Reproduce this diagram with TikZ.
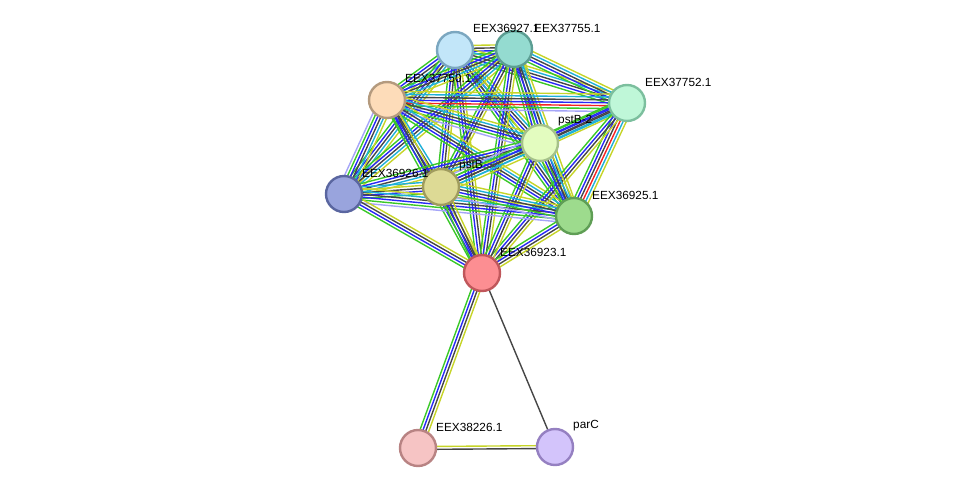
\documentclass[tikz,border=0pt]{standalone}
\usepackage{fontspec}
\setmainfont{Liberation Sans}
\usetikzlibrary{calc}
\pgfdeclarelayer{edges}
\pgfsetlayers{edges,main}

% evidence colours
\definecolor{evgreen}{RGB}{58,200,40}
\definecolor{evblue}{RGB}{40,40,245}
\definecolor{evblack}{RGB}{70,70,70}
\definecolor{evyellow}{RGB}{198,212,40}
\definecolor{evcyan}{RGB}{30,176,216}
\definecolor{evlav}{RGB}{165,165,248}
\definecolor{evred}{RGB}{245,35,35}

\tikzset{
  protein/.style={circle, draw, line width=2.4pt, minimum size=36pt, inner sep=0pt},
  plabel/.style={anchor=west, inner sep=0pt, font=\fontsize{11.8}{13}\selectfont},
}

\newcommand{\evlink}[3]{%
  \foreach \col [count=\k] in {#3} {\xdef\nlines{\k}}%
  \foreach \col [count=\k] in {#3} {%
    \pgfmathsetlengthmacro{\off}{(\k-1-(\nlines-1)/2)*2.9pt}%
    \draw[color=\col, line width=1.4pt] ($(#1)!\off!90:(#2)$) -- ($(#2)!\off!-90:(#1)$);
  }%
}

\begin{document}
\begin{tikzpicture}[x=1pt,y=-1pt]
    \useasboundingbox (0,0) rectangle (975,494);

    % proteins
    \node[protein, fill={rgb,255:red,194;green,230;blue,249}, draw={rgb,255:red,123;green,167;blue,192}] (p36927) at (455,50) {};
    \node[protein, fill={rgb,255:red,148;green,219;blue,208}, draw={rgb,255:red,92;green,158;blue,147}] (p37755) at (514,49) {};
    \node[protein, fill={rgb,255:red,253;green,220;blue,185}, draw={rgb,255:red,180;green,154;blue,126}] (p37750) at (387,100) {};
    \node[protein, fill={rgb,255:red,191;green,247;blue,216}, draw={rgb,255:red,124;green,191;blue,158}] (p37752) at (627,103) {};
    \node[protein, fill={rgb,255:red,227;green,252;blue,191}, draw={rgb,255:red,165;green,193;blue,138}] (pstB2) at (540,143) {};
    \node[protein, fill={rgb,255:red,153;green,164;blue,221}, draw={rgb,255:red,90;green,102;blue,160}] (p36926) at (344,194) {};
    \node[protein, fill={rgb,255:red,221;green,218;blue,149}, draw={rgb,255:red,160;green,156;blue,94}] (pstB) at (441,187) {};
    \node[protein, fill={rgb,255:red,157;green,219;blue,141}, draw={rgb,255:red,95;green,158;blue,85}] (p36925) at (574,216) {};
    \node[protein, fill={rgb,255:red,252;green,142;blue,146}, draw={rgb,255:red,192;green,87;blue,91}] (p36923) at (482,273) {};
    \node[protein, fill={rgb,255:red,246;green,196;blue,196}, draw={rgb,255:red,184;green,131;blue,131}] (p38226) at (418,448) {};
    \node[protein, fill={rgb,255:red,211;green,196;blue,251}, draw={rgb,255:red,149;green,128;blue,193}] (parC) at (555,447) {};

    % labels
    \node[plabel] (t36927) at ([shift={(18,-22)}]p36927.center) {EEX36927.1};
    \node[plabel] (t37755) at ([shift={(20,-21)}]p37755.center) {EEX37755.1};
    \node[plabel] (t37750) at ([shift={(18,-22)}]p37750.center) {EEX37750.1};
    \node[plabel] (t37752) at ([shift={(18,-21)}]p37752.center) {EEX37752.1};
    \node[plabel] (tpstB2) at ([shift={(18,-22)}]pstB2.center) {pstB-2};
    \node[plabel] (t36926) at ([shift={(18,-21)}]p36926.center) {EEX36926.1};
    \node[plabel] (tpstB) at ([shift={(18,-21)}]pstB.center) {pstB};
    \node[plabel] (t36925) at ([shift={(18,-21)}]p36925.center) {EEX36925.1};
    \node[plabel] (t36923) at ([shift={(18,-21)}]p36923.center) {EEX36923.1};
    \node[plabel] (t38226) at ([shift={(18,-21)}]p38226.center) {EEX38226.1};
    \node[plabel] (tparC) at ([shift={(18,-21)}]parC.center) {parC};

    \begin{pgfonlayer}{edges}
    \evlink{p36927}{p37755}{evgreen,evblue,evblack,evyellow}
    \evlink{p36927}{p37750}{evgreen,evblue,evblack,evcyan,evyellow}
    \evlink{p36927}{p37752}{evgreen,evblue,evblack,evcyan,evyellow}
    \evlink{p36927}{pstB2}{evgreen,evblue,evblack,evcyan,evyellow}
    \evlink{p36927}{p36926}{evgreen,evblue,evblack,evcyan,evyellow}
    \evlink{p36927}{pstB}{evgreen,evblue,evblack,evyellow}
    \evlink{p36927}{p36925}{evgreen,evblue,evblack,evcyan,evyellow}
    \evlink{p36927}{p36923}{evgreen,evblue,evblack,evyellow}
    \evlink{p37755}{p37750}{evgreen,evblue,evblack,evcyan,evyellow}
    \evlink{p37755}{p37752}{evgreen,evblue,evblack,evcyan,evyellow}
    \evlink{p37755}{pstB2}{evgreen,evblue,evblack,evcyan,evyellow}
    \evlink{p37755}{p36926}{evgreen,evblue,evblack,evcyan,evyellow}
    \evlink{p37755}{pstB}{evgreen,evblue,evblack,evyellow}
    \evlink{p37755}{p36925}{evgreen,evblue,evblack,evcyan,evyellow}
    \evlink{p37755}{p36923}{evgreen,evblue,evblack,evyellow}
    \evlink{p37750}{p37752}{evlav,evgreen,evred,evblue,evblack,evcyan,evyellow}
    \evlink{p37750}{pstB2}{evlav,evgreen,evblue,evblack,evcyan,evyellow}
    \evlink{p37750}{p36926}{evlav,evgreen,evblue,evblack,evcyan,evyellow}
    \evlink{p37750}{pstB}{evgreen,evblue,evblack,evcyan}
    \evlink{p37750}{p36925}{evgreen,evblue,evblack,evcyan,evyellow}
    \evlink{p37750}{p36923}{evgreen,evblue,evblack,evyellow}
    \evlink{p37752}{pstB2}{evgreen,evblue,evblack,evcyan,evyellow}
    \evlink{p37752}{pstB}{evgreen,evblue,evblack,evcyan}
    \evlink{p37752}{p36925}{evgreen,evblue,evblack,evred,evcyan,evyellow}
    \evlink{p37752}{p36923}{evgreen,evblue,evblack,evyellow}
    \evlink{pstB2}{p36926}{evgreen,evblue,evblack,evcyan,evyellow}
    \evlink{pstB2}{pstB}{evlav,evgreen,evblue,evblack,evcyan,evyellow}
    \evlink{pstB2}{p36925}{evgreen,evblue,evblack,evcyan,evyellow}
    \evlink{pstB2}{p36923}{evgreen,evblue,evblack,evyellow}
    \evlink{p36926}{pstB}{evgreen,evblue,evblack,evyellow,evcyan}
    \evlink{p36926}{p36925}{evlav,evgreen,evblue,evblack,evcyan,evyellow}
    \evlink{p36926}{p36923}{evgreen,evblue,evblack,evyellow}
    \evlink{pstB}{p36925}{evlav,evgreen,evblue,evblack,evcyan,evyellow}
    \evlink{pstB}{p36923}{evgreen,evblue,evblack,evyellow}
    \evlink{p36925}{p36923}{evgreen,evblue,evblack,evyellow}
    \evlink{p36923}{p38226}{evgreen,evblue,evblack,evyellow}
    \evlink{p36923}{parC}{evblack}
    \evlink{p38226}{parC}{evblack,evyellow}
    \end{pgfonlayer}
\end{tikzpicture}
\end{document}
